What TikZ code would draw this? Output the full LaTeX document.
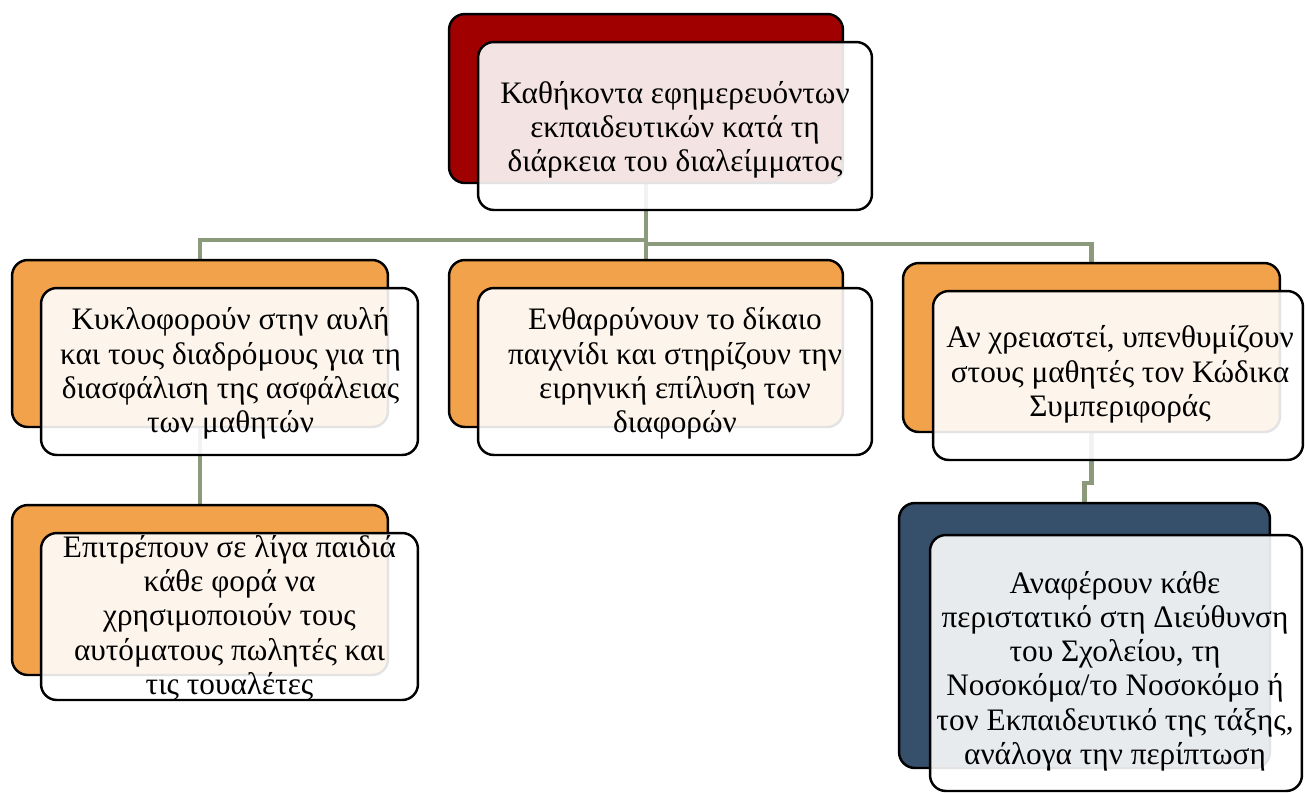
\documentclass[tikz,border=0pt]{standalone}
\usepackage{fontspec}
\setmainfont{Liberation Serif}
\usepackage{xcolor}
\usepackage{tikz}
\usetikzlibrary{positioning, calc, backgrounds}

\definecolor{dutyred}{RGB}{160,0,0}
\definecolor{dutyorange}{RGB}{241,162,74}
\definecolor{dutynavy}{RGB}{54,79,107}
\definecolor{dutylink}{RGB}{138,154,122}

\newcommand{\boxtextfont}{\fontsize{17.8}{19.5}\selectfont}

\tikzset{
  backbox/.style={draw=black, line width=1.4pt, rounded corners=9pt, inner sep=0pt},
  frontbox/.style={draw=black, line width=1.4pt, rounded corners=9pt, inner sep=0pt,
    fill=white, fill opacity=0.89, draw opacity=1},
  boxtext/.style={align=center, font=\boxtextfont, inner sep=0pt},
  link/.style={dutylink, line width=2.5pt}
}

\begin{document}
\begin{tikzpicture}[x=0.02cm, y=-0.02cm]
        \useasboundingbox (0,0) rectangle (1305,792);

        % top box
        \node[backbox, fill=dutyred, minimum width=7.88cm, minimum height=3.38cm] (topback) at (646,98.5) {};
        % second row
        \node[backbox, fill=dutyorange, minimum width=7.52cm, minimum height=3.34cm] (kyklback) at (200,343.5) {};
        \node[backbox, fill=dutyorange, minimum width=7.88cm, minimum height=3.34cm] (enthback) at (646,343.5) {};
        \node[backbox, fill=dutyorange, minimum width=7.54cm, minimum height=3.38cm] (anback) at (1091.5,347.5) {};
        % third row
        \node[backbox, fill=dutyorange, minimum width=7.52cm, minimum height=3.40cm] (epitrback) at (200,590) {};
        \node[backbox, fill=dutynavy, minimum width=7.42cm, minimum height=5.30cm] (anafback) at (1084.5,635.5) {};

        \begin{scope}[on background layer]
          \draw[link] (topback.south) -- (enthback.north);
          \draw[link] (topback.south) -- ++(0,56) -| (kyklback.north);
          \draw[link] (topback.south) -- ++(0,60) -| (anback.north);
          \draw[link] (kyklback.south) -- (epitrback.north);
          \draw[link] (anback.south) -- ++(0,50) -| (anafback.north);
        \end{scope}

        \node[frontbox, minimum width=7.88cm, minimum height=3.36cm] (top) at (675,126) {};
        \node[frontbox, minimum width=7.54cm, minimum height=3.34cm] (kykl) at (229.5,371.5) {};
        \node[frontbox, minimum width=7.88cm, minimum height=3.34cm] (enth) at (675,371.5) {};
        \node[frontbox, minimum width=7.40cm, minimum height=3.38cm] (an) at (1118,375.5) {};
        \node[frontbox, minimum width=7.54cm, minimum height=3.34cm] (epitr) at (229.5,616.5) {};
        \node[frontbox, minimum width=7.44cm, minimum height=5.12cm] (anaf) at (1116,663) {};

        \node[boxtext] (toptext) at ($(top)+(0,4)$) {Καθήκοντα εφημερευόντων\\εκπαιδευτικών κατά τη\\διάρκεια του διαλείμματος};
        \node[boxtext] (kykltext) at ($(kykl)+(1,2)$) {Κυκλοφορούν στην αυλή\\και τους διαδρόμους για τη\\διασφάλιση της ασφάλειας\\των μαθητών};
        \node[boxtext] (enthtext) at ($(enth)+(0,2)$) {Ενθαρρύνουν το δίκαιο\\παιχνίδι και στηρίζουν την\\ειρηνική επίλυση των\\διαφορών};
        \node[boxtext] (antext) at ($(an)+(2,-1)$) {Αν χρειαστεί, υπενθυμίζουν\\στους μαθητές τον Κώδικα\\Συμπεριφοράς};
        \node[boxtext] (epitrtext) at ($(epitr)+(0,1)$) {Επιτρέπουν σε λίγα παιδιά\\κάθε φορά να\\χρησιμοποιούν τους\\αυτόματους πωλητές και\\τις τουαλέτες};
        \node[boxtext] (anaftext) at ($(anaf)+(-1,8)$) {Αναφέρουν κάθε\\περιστατικό στη Διεύθυνση\\του Σχολείου, τη\\Νοσοκόμα/το Νοσοκόμο ή\\τον Εκπαιδευτικό της τάξης,\\ανάλογα την περίπτωση};
      \end{tikzpicture}
\end{document}
